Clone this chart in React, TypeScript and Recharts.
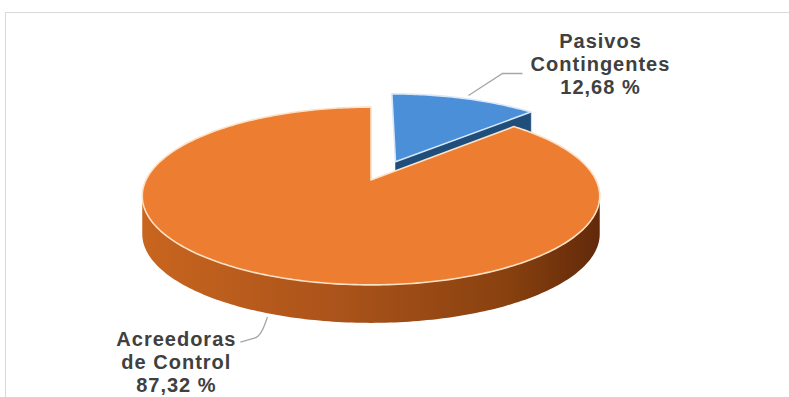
import React from 'react';
import { PieChart, Pie } from 'recharts';

// ---- data ----
const categories = ['Pasivos Contingentes', 'Acreedoras de Control'];
const shares = [12.68, 87.32];
const explodedCategory = 'Pasivos Contingentes';

const topColors = ['#4A8FD8', '#ED7D31'];
const edgeColors = ['#D8E8F8', '#FCE1C6'];
const faceColors = ['#1F4E7A', '#9A4A16'];

const data = categories.map((name, i) => ({ name, value: shares[i] }));

// ---- layout (3D projection) ----
const W = 789;
const H = 397;
const CX = 366;
const CY = 175;
const RADIUS = 225;
const V_RATIO = 86 / 225;
const PERSP = 0.18;
const DEPTH = 38;
const EXPLODE = 0.24;
const SIL = (Math.asin(PERSP) * 180) / Math.PI; // silhouette offset

const rad = (d: number) => (d * Math.PI) / 180;

function makeProjector(cx: number, cy: number, r: number, ox: number, oy: number) {
  return (rho: number, deg: number, drop = 0): [number, number] => {
    const X = ox + rho * Math.cos(rad(deg));
    const Z = oy + rho * Math.sin(rad(deg));
    const w = 1 + PERSP * Z;
    return [cx + (r * X) / w, cy - (r * V_RATIO * Z) / w + drop];
  };
}

function arcPoints(P: any, from: number, to: number, drop = 0) {
  const n = Math.max(2, Math.ceil(Math.abs(to - from)));
  const pts: [number, number][] = [];
  for (let i = 0; i <= n; i++) {
    const a = from + ((to - from) * i) / n;
    pts.push(P(1, a, drop));
  }
  return pts;
}

const toPath = (pts: [number, number][], close = true) =>
  pts.map((p, i) => `${i ? 'L' : 'M'}${p[0].toFixed(2)},${p[1].toFixed(2)}`).join(' ') + (close ? ' Z' : '');

function getOffset(name: string, midAngle: number) {
  if (name !== explodedCategory) return [0, 0];
  return [EXPLODE * Math.cos(rad(midAngle)) + 0.02, EXPLODE * Math.sin(rad(midAngle))];
}

const renderSlice = (props: any) => {
  const { cx, cy, outerRadius, startAngle, endAngle, midAngle } = props;
  const name = props.name ?? props.payload?.name;
  const idx = categories.indexOf(name);
  const [ox, oy] = getOffset(name, midAngle);
  const P = makeProjector(cx, cy, outerRadius, ox, oy);
  const a0 = Math.max(startAngle, endAngle);
  const a1 = Math.min(startAngle, endAngle);
  const center = P(0, 0);
  const centerLow = P(0, 0, DEPTH);

  const walls: string[] = [];
  for (const n of [-1, 0, 1]) {
    const lo = Math.max(a1, -180 + SIL + 360 * n);
    const hi = Math.min(a0, -SIL + 360 * n);
    if (hi - lo > 0.01) {
      const top = arcPoints(P, hi, lo);
      const bottom = arcPoints(P, lo, hi, DEPTH);
      walls.push(toPath([...top, ...bottom]));
    }
  }
  const faces: string[] = [];
  if (Math.cos(rad(a0)) < -0.001) {
    faces.push(toPath([center, P(1, a0), P(1, a0, DEPTH), centerLow]));
  }
  if (Math.cos(rad(a1)) > 0.001) {
    faces.push(toPath([center, P(1, a1), P(1, a1, DEPTH), centerLow]));
  }
  const top = toPath([center, ...arcPoints(P, a0, a1)]);
  const gid = `wall-${idx}`;
  return (
    <g>
      <defs>
        <linearGradient id={gid} x1="0" y1="0" x2="1" y2="0">
          <stop offset="0%" stopColor="#C8651F" />
          <stop offset="45%" stopColor="#A9521A" />
          <stop offset="80%" stopColor="#88410F" />
          <stop offset="100%" stopColor="#62290A" />
        </linearGradient>
      </defs>
      {walls.map((d, i) => (
        <path key={`w${i}`} d={d} fill={`url(#${gid})`} stroke="none" />
      ))}
      {faces.map((d, i) => (
        <path key={`f${i}`} d={d} fill={faceColors[idx]} stroke={faceColors[idx]} strokeWidth={0.5} />
      ))}
      <path d={top} fill={topColors[idx]} stroke={edgeColors[idx]} strokeWidth={1.6} strokeLinejoin="round" />
    </g>
  );
};

const fmt = (v: number) => v.toFixed(2).replace('.', ',') + ' %';

const renderLabel = (props: any) => {
  const { cx, cy, outerRadius, midAngle, value } = props;
  const name: string = props.name ?? props.payload?.name;
  const [ox, oy] = getOffset(name, midAngle);
  const P = makeProjector(cx, cy, outerRadius, ox, oy);
  const sp = name.indexOf(' ');
  const lines = [name.slice(0, sp), name.slice(sp + 1), fmt(value)];
  const textStyle = {
    fontFamily: '"Liberation Sans", Arial, sans-serif',
    fontWeight: 700,
    fontSize: 20,
    letterSpacing: 1,
    fill: '#404040',
  } as const;
  const right = Math.cos(rad(midAngle)) > 0;
  if (right) {
    const [sx, sy] = P(1, midAngle);
    const p1 = [sx + 4, sy - 3];
    const p2 = [sx + 38, sy - 25];
    const p3 = [sx + 58, sy - 25];
    const tx = p3[0] + 78;
    const by = p3[1];
    return (
      <g>
        <path d={`M${p1[0]},${p1[1]} L${p2[0]},${p2[1]} L${p3[0]},${p3[1]}`} fill="none" stroke="#A6A6A6" strokeWidth={1.3} />
        {lines.map((t, i) => (
          <text key={i} x={tx} y={by - 25 + 23 * i} textAnchor="middle" style={textStyle}>{t}</text>
        ))}
      </g>
    );
  }
  const [sx, sy] = P(1, midAngle, DEPTH);
  const tx = sx - 90;
  return (
    <g>
      <path
        d={`M${sx + 1},${sy + 4} Q${sx - 5},${sy + 24} ${sx - 12},${sy + 25} L${sx - 26},${sy + 29}`}
        fill="none"
        stroke="#A6A6A6"
        strokeWidth={1.3}
      />
      {lines.map((t, i) => (
        <text key={i} x={tx} y={sy + 33 + 23 * i} textAnchor="middle" style={textStyle}>{t}</text>
      ))}
    </g>
  );
};

export default function App() {
  return (
    <div style={{ position: 'absolute', left: 0, top: 0, width: W, height: H, background: '#fff', overflow: 'hidden' }}>
      <div
        style={{
          position: 'absolute',
          left: 5,
          top: 12,
          width: W,
          height: H,
          borderLeft: '1px solid #D9D9D9',
          borderTop: '1px solid #D9D9D9',
        }}
      />
      <div style={{ position: 'absolute', left: 0, top: 0 }}>
        <PieChart width={W} height={H}>
          <Pie
            data={data}
            dataKey="value"
            nameKey="name"
            cx={CX}
            cy={CY}
            outerRadius={RADIUS}
            startAngle={90}
            endAngle={-270}
            isAnimationActive={false}
            shape={renderSlice}
            activeShape={renderSlice}
            inactiveShape={renderSlice}
            label={renderLabel}
            labelLine={false}
            stroke="none"
          />
        </PieChart>
      </div>
    </div>
  );
}
